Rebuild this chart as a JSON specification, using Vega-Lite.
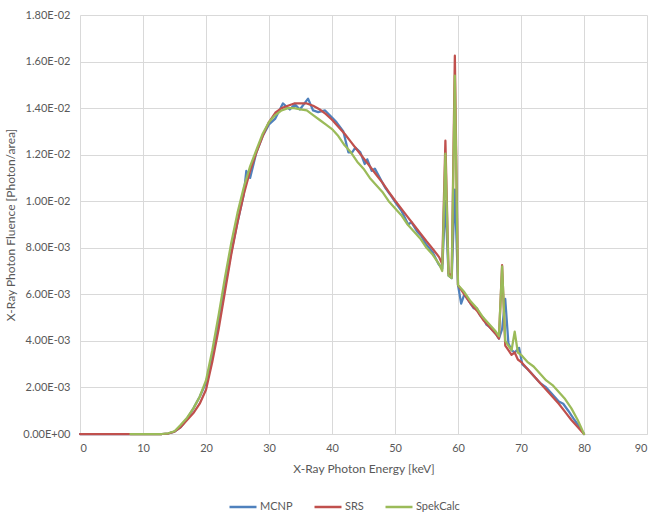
{
  "$schema": "https://vega.github.io/schema/vega-lite/v6.json",
  "width": 567,
  "height": 419,
  "autosize": "none",
  "padding": {"left": 80, "top": 15, "right": 2, "bottom": 79},
  "background": "#ffffff",
  "config": {
    "view": {"stroke": null},
    "font": "Lato",
    "axis": {"labelFont": "Lato", "titleFont": "Lato", "labelColor": "#595959", "titleColor": "#595959", "labelFontSize": 11, "titleFontSize": 12, "titleFontWeight": "normal", "gridColor": "#d9d9d9", "gridWidth": 1, "ticks": false}
  },
  "datasets": {
    "spec": [
      {"s":"MCNP","e":0,"f":0},{"s":"MCNP","e":8,"f":0},{"s":"MCNP","e":13,"f":0},{"s":"MCNP","e":14,"f":0.00002},
      {"s":"MCNP","e":15,"f":0.0001},{"s":"MCNP","e":16,"f":0.0003},{"s":"MCNP","e":17,"f":0.00065},{"s":"MCNP","e":18,"f":0.0011},
      {"s":"MCNP","e":19,"f":0.0016},{"s":"MCNP","e":20,"f":0.0022},{"s":"MCNP","e":21,"f":0.0034},{"s":"MCNP","e":22,"f":0.0048},
      {"s":"MCNP","e":23,"f":0.0063},{"s":"MCNP","e":24,"f":0.0078},{"s":"MCNP","e":25,"f":0.0091},{"s":"MCNP","e":26,"f":0.0103},
      {"s":"MCNP","e":26.4,"f":0.0113},{"s":"MCNP","e":27,"f":0.0110},{"s":"MCNP","e":28,"f":0.0121},{"s":"MCNP","e":29,"f":0.0128},
      {"s":"MCNP","e":30,"f":0.0133},{"s":"MCNP","e":31,"f":0.01355},{"s":"MCNP","e":32.2,"f":0.0142},{"s":"MCNP","e":33.3,"f":0.01394},
      {"s":"MCNP","e":34.1,"f":0.01416},{"s":"MCNP","e":34.9,"f":0.01394},{"s":"MCNP","e":36.2,"f":0.01441},{"s":"MCNP","e":37,"f":0.0139},
      {"s":"MCNP","e":37.8,"f":0.01383},{"s":"MCNP","e":38.9,"f":0.0139},{"s":"MCNP","e":40,"f":0.0136},{"s":"MCNP","e":40.7,"f":0.0134},
      {"s":"MCNP","e":41.8,"f":0.0130},{"s":"MCNP","e":42.6,"f":0.0121},{"s":"MCNP","e":43.2,"f":0.0121},{"s":"MCNP","e":43.7,"f":0.0123},
      {"s":"MCNP","e":44.5,"f":0.0121},{"s":"MCNP","e":45.2,"f":0.0116},{"s":"MCNP","e":45.6,"f":0.0118},{"s":"MCNP","e":46.3,"f":0.0113},
      {"s":"MCNP","e":46.8,"f":0.0114},{"s":"MCNP","e":48.4,"f":0.0106},{"s":"MCNP","e":49.2,"f":0.0103},{"s":"MCNP","e":50.2,"f":0.0099},
      {"s":"MCNP","e":51,"f":0.0096},{"s":"MCNP","e":52.1,"f":0.0090},{"s":"MCNP","e":52.6,"f":0.0091},{"s":"MCNP","e":53.5,"f":0.0087},
      {"s":"MCNP","e":54.2,"f":0.0085},{"s":"MCNP","e":54.8,"f":0.0082},{"s":"MCNP","e":56,"f":0.0078},{"s":"MCNP","e":56.9,"f":0.0073},
      {"s":"MCNP","e":57.5,"f":0.0071},{"s":"MCNP","e":58,"f":0.0100},{"s":"MCNP","e":58.5,"f":0.0068},{"s":"MCNP","e":59,"f":0.0067},
      {"s":"MCNP","e":59.5,"f":0.0105},{"s":"MCNP","e":60,"f":0.0064},{"s":"MCNP","e":60.5,"f":0.0056},{"s":"MCNP","e":61,"f":0.0060},
      {"s":"MCNP","e":62,"f":0.0056},{"s":"MCNP","e":62.5,"f":0.0054},{"s":"MCNP","e":63,"f":0.0054},{"s":"MCNP","e":63.5,"f":0.0051},
      {"s":"MCNP","e":64,"f":0.0050},{"s":"MCNP","e":64.5,"f":0.0047},{"s":"MCNP","e":65,"f":0.0046},{"s":"MCNP","e":66,"f":0.0043},
      {"s":"MCNP","e":66.5,"f":0.0041},{"s":"MCNP","e":67,"f":0.0045},{"s":"MCNP","e":67.5,"f":0.0058},{"s":"MCNP","e":68,"f":0.0039},
      {"s":"MCNP","e":68.5,"f":0.0036},{"s":"MCNP","e":69,"f":0.0035},{"s":"MCNP","e":69.7,"f":0.0037},{"s":"MCNP","e":70.2,"f":0.0030},
      {"s":"MCNP","e":71,"f":0.0028},{"s":"MCNP","e":72,"f":0.0025},{"s":"MCNP","e":73,"f":0.0022},{"s":"MCNP","e":74,"f":0.0020},
      {"s":"MCNP","e":75,"f":0.0017},{"s":"MCNP","e":76,"f":0.0014},{"s":"MCNP","e":76.7,"f":0.0013},{"s":"MCNP","e":77.5,"f":0.0010},
      {"s":"MCNP","e":78.5,"f":0.0006},{"s":"MCNP","e":79.3,"f":0.0003},{"s":"MCNP","e":80,"f":0},

      {"s":"SRS","e":0,"f":0},{"s":"SRS","e":8,"f":0},{"s":"SRS","e":13,"f":0},{"s":"SRS","e":14,"f":0.00002},
      {"s":"SRS","e":15,"f":0.0001},{"s":"SRS","e":16,"f":0.0003},{"s":"SRS","e":17,"f":0.0006},{"s":"SRS","e":18,"f":0.0009},
      {"s":"SRS","e":19,"f":0.0013},{"s":"SRS","e":20,"f":0.0019},{"s":"SRS","e":21,"f":0.0031},{"s":"SRS","e":22,"f":0.0045},
      {"s":"SRS","e":23,"f":0.0061},{"s":"SRS","e":24,"f":0.0077},{"s":"SRS","e":25,"f":0.0091},{"s":"SRS","e":26,"f":0.0103},
      {"s":"SRS","e":27,"f":0.0113},{"s":"SRS","e":28,"f":0.0121},{"s":"SRS","e":29,"f":0.0128},{"s":"SRS","e":30,"f":0.0134},
      {"s":"SRS","e":31,"f":0.0138},{"s":"SRS","e":32,"f":0.0140},{"s":"SRS","e":33,"f":0.0141},{"s":"SRS","e":34,"f":0.0142},
      {"s":"SRS","e":35,"f":0.0142},{"s":"SRS","e":36,"f":0.0142},{"s":"SRS","e":37,"f":0.0141},{"s":"SRS","e":38,"f":0.01395},
      {"s":"SRS","e":39,"f":0.01375},{"s":"SRS","e":40,"f":0.0135},{"s":"SRS","e":41,"f":0.0132},{"s":"SRS","e":42,"f":0.0129},
      {"s":"SRS","e":43,"f":0.01255},{"s":"SRS","e":44,"f":0.0122},{"s":"SRS","e":45,"f":0.01185},{"s":"SRS","e":46,"f":0.0115},
      {"s":"SRS","e":47,"f":0.01115},{"s":"SRS","e":48,"f":0.0108},{"s":"SRS","e":49,"f":0.0104},{"s":"SRS","e":50,"f":0.01003},
      {"s":"SRS","e":51,"f":0.00968},{"s":"SRS","e":52,"f":0.00933},{"s":"SRS","e":53,"f":0.00898},{"s":"SRS","e":54,"f":0.00863},
      {"s":"SRS","e":55,"f":0.00828},{"s":"SRS","e":56,"f":0.00795},{"s":"SRS","e":57,"f":0.0076},{"s":"SRS","e":57.5,"f":0.0073},
      {"s":"SRS","e":58,"f":0.0126},{"s":"SRS","e":58.5,"f":0.0069},{"s":"SRS","e":59,"f":0.0068},{"s":"SRS","e":59.5,"f":0.01625},
      {"s":"SRS","e":60,"f":0.0064},{"s":"SRS","e":61,"f":0.0060},{"s":"SRS","e":62,"f":0.0056},{"s":"SRS","e":63,"f":0.0053},
      {"s":"SRS","e":64,"f":0.0049},{"s":"SRS","e":65,"f":0.0046},{"s":"SRS","e":66,"f":0.0043},{"s":"SRS","e":66.5,"f":0.0041},
      {"s":"SRS","e":67,"f":0.00725},{"s":"SRS","e":67.5,"f":0.0038},{"s":"SRS","e":68,"f":0.0036},{"s":"SRS","e":68.5,"f":0.0034},
      {"s":"SRS","e":69,"f":0.0035},{"s":"SRS","e":69.5,"f":0.0032},{"s":"SRS","e":70,"f":0.0031},{"s":"SRS","e":71,"f":0.0028},
      {"s":"SRS","e":72,"f":0.0025},{"s":"SRS","e":73,"f":0.0022},{"s":"SRS","e":74,"f":0.0019},{"s":"SRS","e":75,"f":0.0016},
      {"s":"SRS","e":76,"f":0.0013},{"s":"SRS","e":77,"f":0.00095},{"s":"SRS","e":78,"f":0.0006},{"s":"SRS","e":79,"f":0.0003},
      {"s":"SRS","e":80,"f":0},

      {"s":"SpekCalc","e":8,"f":0},{"s":"SpekCalc","e":13,"f":0},{"s":"SpekCalc","e":14,"f":0.00003},{"s":"SpekCalc","e":15,"f":0.00012},
      {"s":"SpekCalc","e":16,"f":0.0004},{"s":"SpekCalc","e":17,"f":0.0007},{"s":"SpekCalc","e":18,"f":0.0011},{"s":"SpekCalc","e":19,"f":0.0016},
      {"s":"SpekCalc","e":20,"f":0.0023},{"s":"SpekCalc","e":21,"f":0.0036},{"s":"SpekCalc","e":22,"f":0.0051},{"s":"SpekCalc","e":23,"f":0.0067},
      {"s":"SpekCalc","e":24,"f":0.0082},{"s":"SpekCalc","e":25,"f":0.0095},{"s":"SpekCalc","e":26,"f":0.0106},{"s":"SpekCalc","e":27,"f":0.0115},
      {"s":"SpekCalc","e":28,"f":0.0122},{"s":"SpekCalc","e":29,"f":0.0129},{"s":"SpekCalc","e":30,"f":0.0134},{"s":"SpekCalc","e":31,"f":0.0137},
      {"s":"SpekCalc","e":32,"f":0.0139},{"s":"SpekCalc","e":33,"f":0.0140},{"s":"SpekCalc","e":34,"f":0.0140},{"s":"SpekCalc","e":35,"f":0.01395},
      {"s":"SpekCalc","e":36,"f":0.0139},{"s":"SpekCalc","e":37,"f":0.0137},{"s":"SpekCalc","e":38,"f":0.0135},{"s":"SpekCalc","e":39,"f":0.0133},
      {"s":"SpekCalc","e":40,"f":0.0131},{"s":"SpekCalc","e":41,"f":0.0128},{"s":"SpekCalc","e":42,"f":0.0124},{"s":"SpekCalc","e":43,"f":0.0121},
      {"s":"SpekCalc","e":44,"f":0.0117},{"s":"SpekCalc","e":45,"f":0.0114},{"s":"SpekCalc","e":46,"f":0.0110},{"s":"SpekCalc","e":47,"f":0.0107},
      {"s":"SpekCalc","e":48,"f":0.0104},{"s":"SpekCalc","e":49,"f":0.0100},{"s":"SpekCalc","e":50,"f":0.0097},{"s":"SpekCalc","e":51,"f":0.0094},
      {"s":"SpekCalc","e":52,"f":0.0090},{"s":"SpekCalc","e":53,"f":0.0087},{"s":"SpekCalc","e":54,"f":0.0084},{"s":"SpekCalc","e":55,"f":0.0080},
      {"s":"SpekCalc","e":56,"f":0.0077},{"s":"SpekCalc","e":57,"f":0.0073},{"s":"SpekCalc","e":57.5,"f":0.0070},{"s":"SpekCalc","e":58,"f":0.01205},
      {"s":"SpekCalc","e":58.5,"f":0.0068},{"s":"SpekCalc","e":59,"f":0.0067},{"s":"SpekCalc","e":59.5,"f":0.0154},{"s":"SpekCalc","e":60,"f":0.0064},
      {"s":"SpekCalc","e":61,"f":0.0061},{"s":"SpekCalc","e":62,"f":0.0057},{"s":"SpekCalc","e":63,"f":0.0054},{"s":"SpekCalc","e":64,"f":0.0050},
      {"s":"SpekCalc","e":65,"f":0.0047},{"s":"SpekCalc","e":66,"f":0.0044},{"s":"SpekCalc","e":66.5,"f":0.0042},{"s":"SpekCalc","e":67,"f":0.0072},
      {"s":"SpekCalc","e":67.5,"f":0.0040},{"s":"SpekCalc","e":68,"f":0.0038},{"s":"SpekCalc","e":68.5,"f":0.0036},{"s":"SpekCalc","e":69,"f":0.0044},
      {"s":"SpekCalc","e":69.5,"f":0.0035},{"s":"SpekCalc","e":70,"f":0.0034},{"s":"SpekCalc","e":71,"f":0.0031},{"s":"SpekCalc","e":72,"f":0.0029},
      {"s":"SpekCalc","e":73,"f":0.0026},{"s":"SpekCalc","e":74,"f":0.0023},{"s":"SpekCalc","e":75,"f":0.0021},{"s":"SpekCalc","e":76,"f":0.0018},
      {"s":"SpekCalc","e":77,"f":0.0015},{"s":"SpekCalc","e":78,"f":0.0011},{"s":"SpekCalc","e":79,"f":0.0006},{"s":"SpekCalc","e":80,"f":0}
    ]
  },
  "data": {"name": "spec"},
  "mark": {"type": "line", "strokeWidth": 2.25, "strokeJoin": "round", "strokeCap": "round"},
  "encoding": {
    "x": {
      "field": "e", "type": "quantitative",
      "scale": {"domain": [0, 90], "nice": false},
      "axis": {"values": [0,10,20,30,40,50,60,70,80,90], "title": "X-Ray Photon Energy [keV]", "labelPadding": 8, "titlePadding": 10, "domainColor": "#d9d9d9", "grid": true}
    },
    "y": {
      "field": "f", "type": "quantitative",
      "scale": {"domain": [0, 0.018], "nice": false},
      "axis": {
        "values": [0,0.002,0.004,0.006,0.008,0.01,0.012,0.014,0.016,0.018],
        "labelExpr": "datum.value == 0 ? '0.00E+00' : (datum.value < 0.0099 ? format(datum.value*1000, '.2f') + 'E-03' : format(datum.value*100, '.2f') + 'E-02')",
        "title": "X-Ray Photon Fluence [Photon/area]", "labelPadding": 10, "titlePadding": 5, "domain": false, "grid": true
      }
    },
    "color": {
      "field": "s", "type": "nominal",
      "scale": {"domain": ["MCNP", "SRS", "SpekCalc"], "range": ["#4F81BD", "#C0504D", "#9BBB59"]},
      "legend": {"title": null, "orient": "none", "legendX": 148, "legendY": 477, "padding": 0, "direction": "horizontal", "symbolType": "stroke", "symbolStrokeWidth": 2.5, "symbolSize": 729, "labelOffset": 2, "labelFont": "Lato", "labelFontSize": 11, "labelColor": "#595959", "columnPadding": 16}
    }
  }
}
